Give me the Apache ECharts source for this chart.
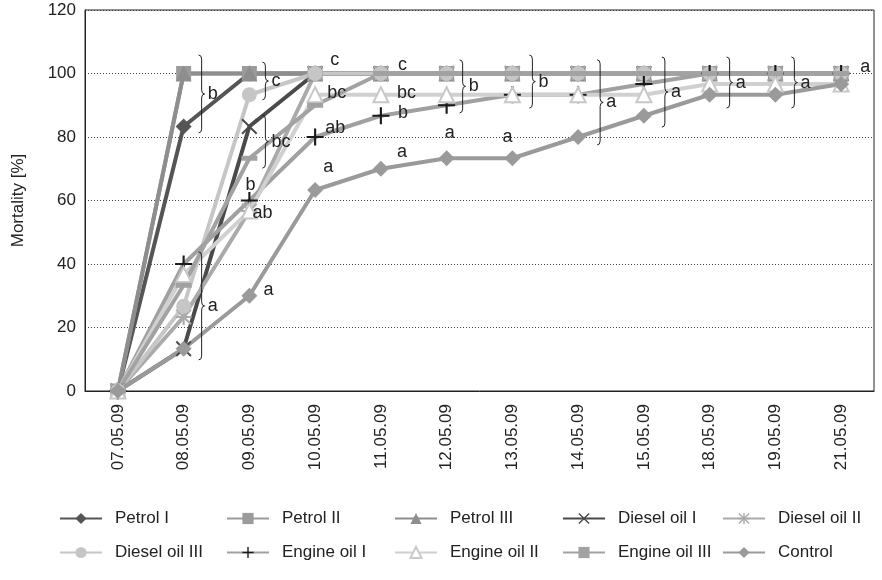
<!DOCTYPE html>
<html>
<head>
<meta charset="utf-8">
<script src="https://cdn.jsdelivr.net/npm/echarts@6/dist/echarts.min.js"></script>
<style>
  html, body { margin: 0; padding: 0; background: #fff; }
  #chart { width: 882px; height: 580px; }
</style>
</head>
<body>
<div id="chart"></div>
<script>
const categories = ['07.05.09', '08.05.09', '09.05.09', '10.05.09', '11.05.09', '12.05.09',
  '13.05.09', '14.05.09', '15.05.09', '18.05.09', '19.05.09', '21.05.09'];

const petrolI = [0, 83.3, 100, 100, 100, 100, 100, 100, 100, 100, 100, 100];
const petrolII = [0, 100, 100, 100, 100, 100, 100, 100, 100, 100, 100, 100];
const petrolIII = [0, 100, 100, 100, 100, 100, 100, 100, 100, 100, 100, 100];
const dieselOilI = [0, 13.3, 83.3, 100, 100, 100, 100, 100, 100, 100, 100, 100];
const dieselOilII = [0, 23.3, 56.7, 100, 100, 100, 100, 100, 100, 100, 100, 100];
const dieselOilIII = [0, 26.7, 93.3, 100, 100, 100, 100, 100, 100, 100, 100, 100];
const engineOilI = [0, 40, 60, 80, 86.7, 90, 93.3, 93.3, 96.7, 100, 100, 100];
const engineOilII = [0, 36.7, 56.7, 93.3, 93.3, 93.3, 93.3, 93.3, 93.3, 96.7, 96.7, 96.7];
const engineOilIII = [0, 33.3, 73.3, 90, 100, 100, 100, 100, 100, 100, 100, 100];
const control = [0, 13.3, 30, 63.3, 70, 73.3, 73.3, 80, 86.7, 93.3, 93.3, 96.7];

const yTicks = [0, 20, 40, 60, 80, 100, 120];

// significance braces: [category index, top value, bottom value, letter]
const braces = [
  [1, 105.8, 81.3, 'b'],
  [1, 43.8, 9.8, 'a'],
  [2, 103.6, 91.7, 'c'],
  [2, 86.9, 70.2, 'bc'],
  [5, 104.3, 87.6, 'b'],
  [6, 105.8, 89.1, 'b'],
  [7, 104.3, 77.5, 'a'],
  [8, 105.2, 83.1, 'a'],
  [9, 105.2, 89.1, 'a'],
  [10, 105.2, 89.1, 'a']
];
// single letters: [category index, value, letter]
const letters = [
  [2, 64.9, 'b'],
  [2, 56.1, 'ab'],
  [2, 31.8, 'a'],
  [3, 104.3, 'c'],
  [3, 93.9, 'bc'],
  [3, 82.8, 'ab'],
  [3, 70.6, 'a'],
  [4, 102.7, 'c'],
  [4, 93.9, 'bc'],
  [4, 87.6, 'b'],
  [4, 75.3, 'a'],
  [5, 81.3, 'a'],
  [6, 80, 'a'],
  [11, 102, 'a']
];

// layout offsets (px from category centre)
const braceDx = [15, 15, 13, 13, 13, 17, 19, 18, 17, 16];
const letterDx = [-4, 3, 14, 15, 12, 10, 8, 17, 16, 17, 16, -2, -10, 19];

const FONT = '"Liberation Sans", Arial, sans-serif';
const plusPath = 'path://M7,0h2v16h-2zM0,7h16v2h-16z';
const crossPath = 'path://M1.4,0L8,6.6L14.6,0L16,1.4L9.4,8L16,14.6L14.6,16L8,9.4L1.4,16L0,14.6L6.6,8L0,1.4Z';
const starPath = 'path://M7,0h2v16h-2zM0,7h16v2h-16zM1.4,0L8,6.6L14.6,0L16,1.4L9.4,8L16,14.6L14.6,16L8,9.4L1.4,16L0,14.6L6.6,8L0,1.4Z';

function line(name, data, color, symbol, size, item) {
  return {
    name: name,
    type: 'line',
    data: data,
    symbol: symbol,
    symbolSize: size,
    showAllSymbol: true,
    lineStyle: { color: color, width: 4 },
    itemStyle: item || { color: color },
    emphasis: { disabled: true }
  };
}

const chart = echarts.init(document.getElementById('chart'));

// legend grid: 2 rows x 5 columns
const legendRows = [
  ['Petrol I', 'Petrol II', 'Petrol III', 'Diesel oil I', 'Diesel oil II'],
  ['Diesel oil III', 'Engine oil I', 'Engine oil II', 'Engine oil III', 'Control']
];
const legendLeft = [59, 226, 394, 562, 722];
const legendTop = [510, 544];

const legends = [];
legendRows.forEach((row, r) => {
  row.forEach((name, c) => {
    legends.push({
      left: legendLeft[c],
      top: legendTop[r],
      padding: 0,
      itemWidth: 42,
      itemHeight: 14,
      selectedMode: false,
      data: [name],
      textStyle: { fontSize: 17, color: '#222', fontFamily: FONT, padding: [0, 0, 0, 8] }
    });
  });
});

chart.setOption({
  animation: false,
  textStyle: { fontFamily: FONT },
  grid: { left: 85, right: 8, top: 10, bottom: 189, show: true, borderColor: '#222', borderWidth: 1 },
  legend: legends,
  xAxis: {
    type: 'category',
    data: categories,
    boundaryGap: true,
    axisLine: { lineStyle: { color: '#222' } },
    axisTick: { show: false },
    axisLabel: { rotate: 90, fontSize: 17, color: '#222', margin: 13, fontFamily: FONT }
  },
  yAxis: {
    type: 'value',
    min: yTicks[0],
    max: yTicks[yTicks.length - 1],
    interval: 20,
    name: 'Mortality [%]',
    nameLocation: 'middle',
    nameGap: 58,
    nameTextStyle: { fontSize: 17, color: '#222', fontFamily: FONT },
    axisLine: { show: true, lineStyle: { color: '#222' } },
    axisTick: { show: false },
    axisLabel: { fontSize: 17, color: '#222', margin: 9, fontFamily: FONT },
    splitLine: { lineStyle: { color: '#444', type: [1, 2], width: 1 } }
  },
  series: [
    line('Petrol I', petrolI, '#555555', 'diamond', 16),
    line('Petrol II', petrolII, '#9b9b9b', 'rect', 15),
    line('Petrol III', petrolIII, '#8e8e8e', 'triangle', 16),
    line('Diesel oil I', dieselOilI, '#4a4a4a', crossPath, 16),
    line('Diesel oil II', dieselOilII, '#aaaaaa', starPath, 16),
    line('Diesel oil III', dieselOilIII, '#c6c6c6', 'circle', 15),
    line('Engine oil I', engineOilI, '#a0a0a0', plusPath, 17, { color: '#1a1a1a' }),
    line('Engine oil II', engineOilII, '#d0d0d0', 'triangle', 15,
      { color: '#ffffff', borderColor: '#c8c8c8', borderWidth: 2 }),
    line('Engine oil III', engineOilIII, '#a2a2a2', 'rect', [16, 5]),
    line('Control', control, '#9a9a9a', 'diamond', 16),
    {
      type: 'custom',
      silent: true,
      z: 10,
      data: braces.map(b => [b[0], b[1], b[2]]),
      encode: { x: 0, y: [1, 2] },
      renderItem: function (params, api) {
        const i = params.dataIndex;
        const top = api.coord([api.value(0), api.value(1)]);
        const bot = api.coord([api.value(0), api.value(2)]);
        const x0 = top[0] + braceDx[i];
        const y1 = top[1], y2 = bot[1], ym = (y1 + y2) / 2;
        const w = 6, r = 4, xm = x0 + w / 2;
        const d = 'M' + x0 + ',' + y1 + 'Q' + xm + ',' + y1 + ',' + xm + ',' + (y1 + r) +
          'L' + xm + ',' + (ym - r) + 'Q' + xm + ',' + ym + ',' + (x0 + w) + ',' + ym +
          'Q' + xm + ',' + ym + ',' + xm + ',' + (ym + r) +
          'L' + xm + ',' + (y2 - r) + 'Q' + xm + ',' + y2 + ',' + x0 + ',' + y2;
        return {
          type: 'group',
          children: [
            { type: 'path', shape: { pathData: d }, style: { stroke: '#222', fill: 'none', lineWidth: 1 } },
            { type: 'text', style: { text: braces[i][3], x: x0 + w + 3, y: ym, align: 'left', verticalAlign: 'middle', fontSize: 18, fill: '#222', fontFamily: FONT } }
          ]
        };
      }
    },
    {
      type: 'custom',
      silent: true,
      z: 10,
      data: letters.map(l => [l[0], l[1]]),
      encode: { x: 0, y: 1 },
      renderItem: function (params, api) {
        const i = params.dataIndex;
        const p = api.coord([api.value(0), api.value(1)]);
        return {
          type: 'text',
          style: { text: letters[i][2], x: p[0] + letterDx[i], y: p[1], align: 'left', verticalAlign: 'middle', fontSize: 18, fill: '#222', fontFamily: FONT }
        };
      }
    }
  ]
});
</script>
</body>
</html>
